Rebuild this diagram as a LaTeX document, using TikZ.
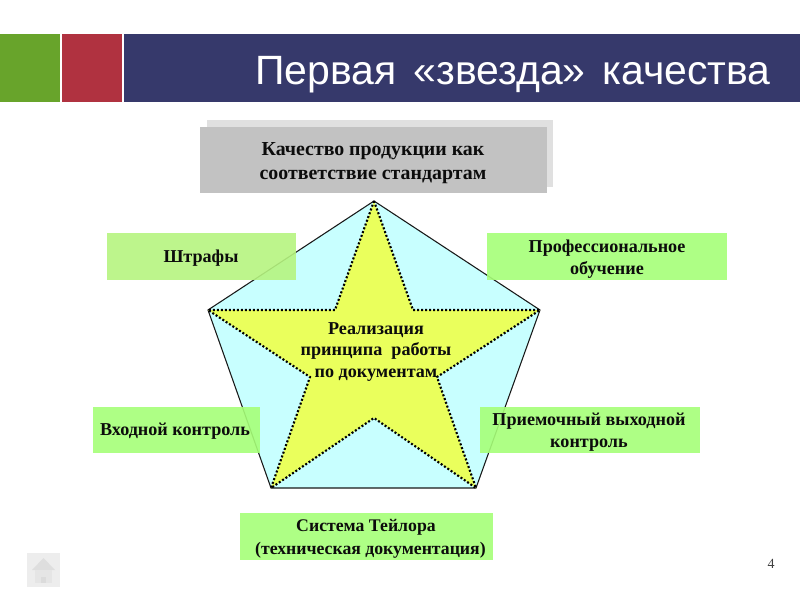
\documentclass[tikz,border=0pt]{standalone}
\usepackage{fontspec}
\setmainfont{Liberation Serif}
\newfontfamily\titlefont[WordSpace=1.5]{Liberation Sans}
\definecolor{barG}{HTML}{68A42B}
\definecolor{barR}{HTML}{B03240}
\definecolor{barB}{HTML}{36396B}
\definecolor{penta}{HTML}{C8FFFF}
\definecolor{starY}{HTML}{EAFF5C}
\definecolor{boxG}{HTML}{A6FF78}
\definecolor{boxO}{HTML}{B6F480}
\definecolor{boxT}{HTML}{0C0C0C}
\tikzset{
  x=0.75pt,y=-0.75pt,
  lbl/.style={font=\bfseries\fontsize{13.6}{16.5}\selectfont,text=boxT,align=center,inner sep=0pt},
  toplbl/.style={lbl,font=\bfseries\fontsize{14.9}{18}\selectfont},
  greenbox/.style={fill=boxG,fill opacity=0.9,draw=none},
}
\begin{document}
\begin{tikzpicture}
\useasboundingbox (0,0) rectangle (800,600);
\fill[white] (0,0) rectangle (800,600);
% header bars
\fill[barG] (0,34) rectangle (60,102);
\fill[barR] (62,34) rectangle (122,102);
\fill[barB] (124,34) rectangle (800,102);
\node[anchor=base east,text=white,inner sep=0pt,font=\titlefont\fontsize{30.7}{36}\selectfont] (title) at (771,84) {Первая «звезда» качества};
% top box with shadow
\fill[black!12] (207,120) rectangle (553,187);
\fill[black!24] (200,127) rectangle (547,193);
\node[toplbl] (top) at (373,163) {Качество продукции как\\соответствие стандартам};
% pentagon and star
\draw[fill=penta,draw=black!90,line width=0.8pt,line join=miter]
  (374,201) -- (540,310) -- (476,488) -- (271,488) -- (208,310) -- cycle;
\draw[fill=starY,draw=black,line width=1.6pt,dash pattern=on 1.5pt off 1.5pt]
  (374,201) -- (413,310) -- (540,310) -- (437,377) -- (476,488) -- (374,418) -- (271,488) -- (310,377) -- (208,310) -- (335,310) -- cycle;
\node[lbl,font=\bfseries\fontsize{13.6}{15.8}\selectfont] (centre) at (376,352) {Реализация\\принципа\ \ работы\\по документам};
% green boxes
\fill[boxO,fill opacity=0.9] (107,233) rectangle (296,280);
\node[lbl] (a) at (201,258.5) {Штрафы};
\fill[greenbox] (487,233) rectangle (727,280);
\node[lbl] (b) at (607,259.5) {Профессиональное\\обучение};
\fill[greenbox] (93,407) rectangle (260,453);
\node[lbl] (c) at (175,431.5) {Входной контроль};
\fill[greenbox] (480,407) rectangle (700,453);
\node[lbl] (d) at (589,432.5) {Приемочный выходной\\контроль};
\fill[greenbox] (240,513) rectangle (493,560);
\node[lbl,font=\bfseries\fontsize{13.3}{17}\selectfont] (e) at (366,539) {Система Тейлора\\\ \ (техническая документация)};
% page number
\node[anchor=base,inner sep=0pt,text=black!75,font=\fontsize{10.5}{12}\selectfont] (num) at (771,568) {4};
% home button
\fill[black!7] (27,553) rectangle (60,587);
\fill[black!13] (43.5,558) -- (55,570) -- (32,570) -- cycle;
\fill[black!10] (35,570) rectangle (52,583);
\fill[black!14] (41,577) rectangle (46,583);
\end{tikzpicture}
\end{document}
